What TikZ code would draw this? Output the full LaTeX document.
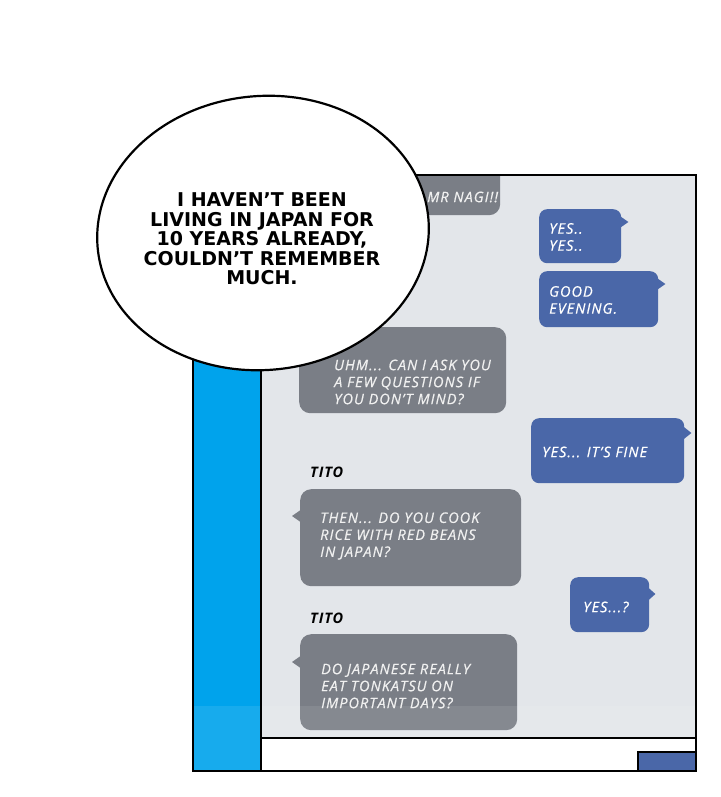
\documentclass[tikz,border=0pt]{standalone}
\usepackage{fontspec}
\setmainfont{Open Sans}
\newfontfamily\comicfont{DejaVu Sans}
\newfontfamily\chatface[LetterSpace=7, FakeBold=0.5]{Open Sans}
\newfontfamily\nameface[LetterSpace=6]{Open Sans}
\usetikzlibrary{calc}
\definecolor{panelbg}{HTML}{E3E6EA}
\definecolor{graybub}{HTML}{7A7E86}
\definecolor{bluebub}{HTML}{4A67A8}
\definecolor{stripblue}{HTML}{00A3EC}
\newcommand\chatfnt{\chatface\itshape\fontsize{14.5}{17}\selectfont}
\tikzset{
  gbub/.style={fill=graybub, rounded corners=11, draw=none, inner sep=0, anchor=north west},
  bbub/.style={fill=bluebub, rounded corners=8, draw=none, inner sep=0, anchor=north west},
  ctext/.style={text=white, font=\chatfnt, align=left, anchor=west, inner sep=0},
  gtext/.style={ctext, text=white!94!black},
  namelbl/.style={font=\nameface\bfseries\itshape\fontsize{14.5}{16}\selectfont, anchor=base west, inner sep=0},
  frameline/.style={draw=black, line width=2.4},
}
\begin{document}
\begin{tikzpicture}[x=1pt,y=-1pt]
\useasboundingbox (0,0) rectangle (720,797);
% panel backgrounds
\fill[panelbg] (261,175) rectangle (696,738);
\fill[stripblue] (193,175) rectangle (261,771);
% top partially hidden bubble
\begin{scope}
\clip (261,175) rectangle (696,738);
\node[gbub, minimum width=200, minimum height=60] (nagi) at (300,155) {};
\end{scope}
\node[gtext] (nagit) at (427,197) {MR NAGI!!};
% right blue bubbles
\node[bbub, minimum width=82, minimum height=54] (yes1) at (539,209) {};
\fill[bluebub] ($(yes1.north east)+(-3,6)$) -- ($(yes1.north east)+(7,13)$) -- ($(yes1.north east)+(-3,20)$) -- cycle;
\node[ctext] (yes1t) at (549,237) {YES..\\YES..};
\node[bbub, minimum width=119, minimum height=56] (good) at (539,271) {};
\fill[bluebub] ($(good.north east)+(-3,6)$) -- ($(good.north east)+(7,13)$) -- ($(good.north east)+(-3,20)$) -- cycle;
\node[ctext] (goodt) at (549,300) {GOOD\\EVENING.};
% UHM bubble
\node[gbub, minimum width=207, minimum height=86] (uhm) at (299,327) {};
\node[gtext] (uhmt) at (334,382) {UHM... CAN I ASK YOU\\A FEW QUESTIONS IF\\YOU DON’T MIND?};
% yes it's fine
\node[bbub, minimum width=153, minimum height=65] (fine) at (531,418) {};
\fill[bluebub] ($(fine.north east)+(-3,7)$) -- ($(fine.north east)+(7,15)$) -- ($(fine.north east)+(-3,23)$) -- cycle;
\node[ctext] (finet) at (542,452) {YES... IT’S FINE};
% Tito 1
\node[namelbl] (tito1) at (310,477) {TITO};
\node[gbub, minimum width=221, minimum height=97] (then) at (300,489) {};
\fill[graybub] ($(then.north west)+(2,20)$) -- ($(then.north west)+(-8,27)$) -- ($(then.north west)+(2,34)$) -- cycle;
\node[gtext] (thent) at (320,536) {THEN... DO YOU COOK\\RICE WITH RED BEANS\\IN JAPAN?};
% yes...?
\node[bbub, minimum width=79, minimum height=55] (yes2) at (570,577) {};
\fill[bluebub] ($(yes2.north east)+(-3,9)$) -- ($(yes2.north east)+(6,17)$) -- ($(yes2.north east)+(-3,25)$) -- cycle;
\node[ctext] (yes2t) at (583,607) {YES...?};
% Tito 2
\node[namelbl] (tito2) at (310,623) {TITO};
\node[gbub, minimum width=217, minimum height=96] (jap) at (300,634) {};
\fill[graybub] ($(jap.north west)+(2,21)$) -- ($(jap.north west)+(-8,28)$) -- ($(jap.north west)+(2,35)$) -- cycle;
\node[gtext] (japt) at (321,686) {DO JAPANESE REALLY\\EAT TONKATSU ON\\IMPORTANT DAYS?};
% bottom fade
\fill[white, opacity=0.09] (193,706) rectangle (696,771);
% small blue rect
\filldraw[fill=bluebub, draw=black, line width=1.6] (638,752) rectangle (696,771);
% frame
\draw[frameline] (261,738) -- (696,738);
\draw[frameline] (261,175) -- (261,771);
\draw[frameline] (193,175) rectangle (696,771);
% speech balloon
\filldraw[fill=white, draw=black, line width=2.2, rotate around={5:(263,233)}] (263,233) ellipse [x radius=166, y radius=137];
\node[font=\comicfont\bfseries\fontsize{19}{19.5}\selectfont, align=center, inner sep=0] (speech) at (262,239)
  {I HAVEN’T BEEN\\LIVING IN JAPAN FOR\\10 YEARS ALREADY,\\COULDN’T REMEMBER\\MUCH.};
\end{tikzpicture}
\end{document}
